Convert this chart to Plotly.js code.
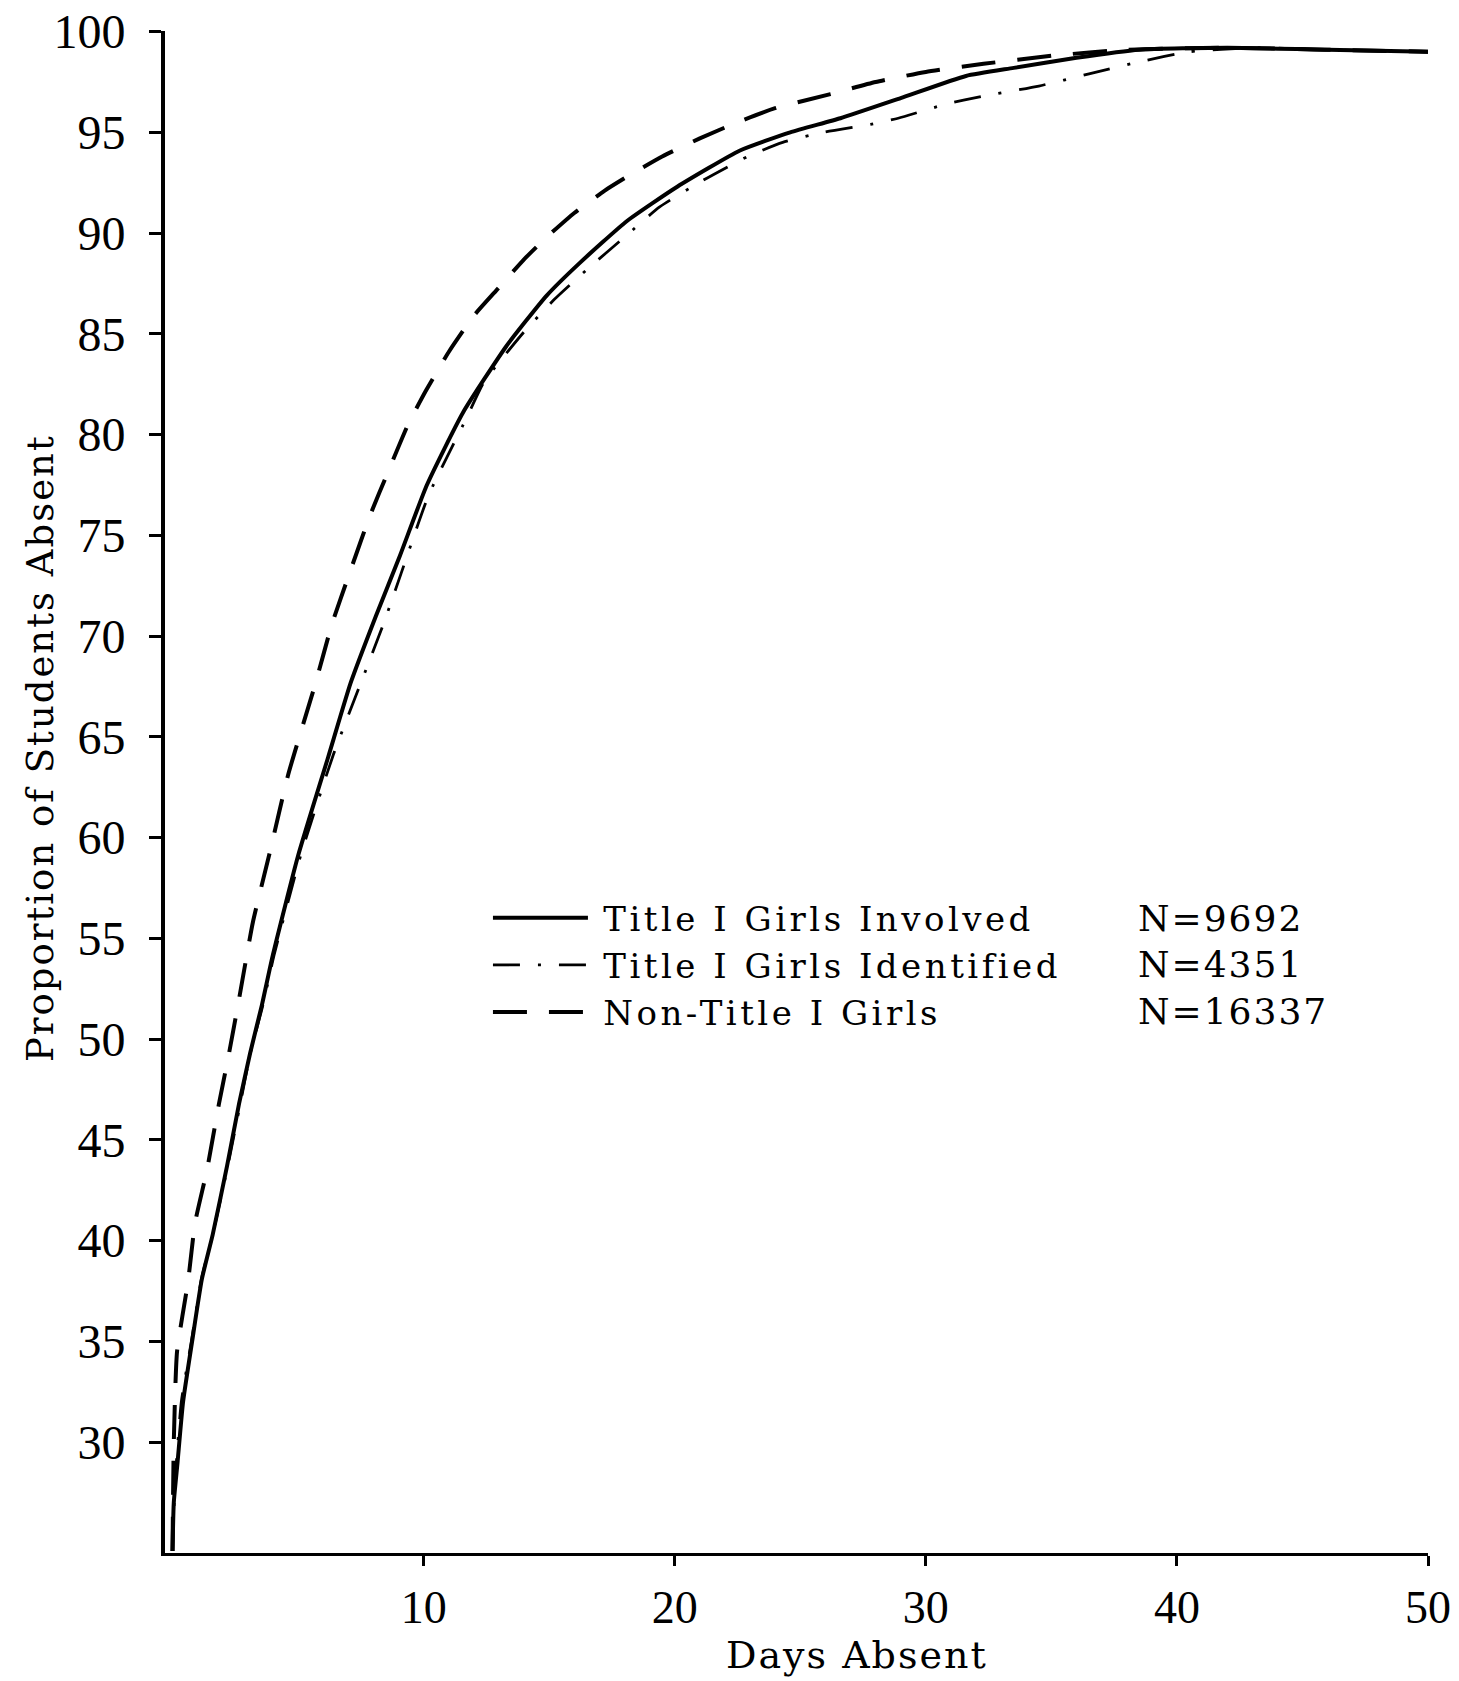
<!DOCTYPE html>
<html>
<head>
<meta charset="utf-8">
<script src="https://cdn.plot.ly/plotly-3.0.1.min.js"></script>
<style>
  html, body { margin: 0; padding: 0; background: #ffffff; }
  #chart { width: 1459px; height: 1681px; }
  .legendtext { letter-spacing: 3.5px; }
  .annotation-text { letter-spacing: 2px; }
</style>
</head>
<body>
<div id="chart"></div>
<script>
// ---- Data ----
const seriesNames = ["Title I Girls Involved", "Title I Girls Identified", "Non-Title I Girls"];
const seriesN = ["N=9692", "N=4351", "N=16337"];

const involvedDays = [0, 0.05, 0.2, 0.42, 0.78, 1.17, 1.6, 2.17, 2.65, 3.09, 3.56, 4.0, 5.0, 6.2, 7.1, 8.1, 9.06, 10.13, 11.57, 13.3, 14.9, 16.2, 18.1, 20.1, 22.6, 24.6, 26.6, 29.0, 31.6, 33.5, 36, 38.5, 42, 46, 50];
const involvedPct  = [24.6, 27.0, 29.0, 32.0, 35.0, 38.1, 40.3, 43.7, 46.8, 49.3, 51.7, 54.2, 59.1, 64.0, 67.7, 71.0, 74.0, 77.5, 81.1, 84.4, 86.9, 88.5, 90.6, 92.3, 94.1, 95.0, 95.7, 96.7, 97.8, 98.2, 98.7, 99.1, 99.2, 99.1, 99.0];

const identifiedDays = [0, 0.1, 0.35, 0.75, 1.15, 1.6, 2.2, 2.7, 3.1, 3.6, 4.05, 5.1, 6.4, 7.6, 8.4, 9.1, 10.2, 11.7, 12.4, 14.0, 15.2, 16.6, 18.0, 19.4, 21.1, 22.9, 24.3, 25.9, 27.8, 28.9, 30.8, 32.3, 34.5, 36.5, 38.5, 40.5, 43, 46, 50];
const identifiedPct  = [24.6, 28.0, 32.0, 35.0, 38.1, 40.3, 43.7, 46.8, 49.3, 51.7, 54.2, 59.1, 64.1, 68.0, 70.6, 73.1, 77.0, 80.8, 82.6, 85.1, 86.7, 88.3, 89.8, 91.3, 92.6, 93.8, 94.5, 95.0, 95.4, 95.7, 96.4, 96.8, 97.3, 97.9, 98.5, 99.0, 99.2, 99.1, 99.0];

const nonTitleDays = [0, 0.05, 0.18, 0.62, 0.9, 1.37, 1.85, 2.25, 2.65, 3.2, 3.88, 4.6, 5.68, 6.35, 7.07, 7.87, 8.6, 9.38, 10.1, 11.0, 12.0, 13.0, 14.0, 14.9, 16.0, 17.2, 18.1, 19.5, 21.0, 22.5, 24.0, 26.2, 28.0, 30.0, 32.3, 35, 38, 42, 46, 50];
const nonTitlePct  = [24.6, 30.0, 34.5, 38.0, 40.9, 43.5, 46.8, 49.3, 52.0, 55.8, 59.3, 63.1, 67.6, 70.6, 73.2, 76.0, 78.2, 80.5, 82.2, 84.1, 85.9, 87.3, 88.7, 89.8, 91.0, 92.1, 92.8, 93.8, 94.7, 95.5, 96.2, 96.9, 97.5, 98.0, 98.4, 98.8, 99.1, 99.2, 99.1, 99.0];

const yTicks = [30, 35, 40, 45, 50, 55, 60, 65, 70, 75, 80, 85, 90, 95, 100];
const xTicks = [10, 20, 30, 40, 50];

// ---- Chart ----
const serif = "Liberation Serif, Times New Roman, serif";
const serif2 = "DejaVu Serif, serif";
const gap = "\u2009";

const traces = [
  { x: involvedDays, y: involvedPct, name: gap + seriesNames[0], mode: "lines",
    line: { color: "#000", width: 4, dash: "solid", shape: "spline", smoothing: 0.5 } },
  { x: identifiedDays, y: identifiedPct, name: gap + seriesNames[1], mode: "lines",
    line: { color: "#000", width: 2.8, dash: "27px,18px,3px,18px", shape: "spline", smoothing: 0.5 } },
  { x: nonTitleDays, y: nonTitlePct, name: gap + seriesNames[2], mode: "lines",
    line: { color: "#000", width: 4, dash: "34px,22px", shape: "spline", smoothing: 0.5 } }
];

const rowY0 = 0.4170, rowStep = 0.0305;
const annotations = seriesN.map((t, i) => ({
  text: t, xref: "paper", yref: "paper", x: 0.769, y: rowY0 - i * rowStep,
  xanchor: "left", yanchor: "middle", showarrow: false,
  font: { family: serif2, size: 36, color: "#000" }
}));
annotations.push({
  text: "Proportion of Students Absent", xref: "paper", yref: "paper",
  x: -0.098, y: 0.529, xanchor: "center", yanchor: "middle", textangle: -90,
  showarrow: false, font: { family: serif2, size: 37, color: "#000" }
});
annotations.push({
  text: "Days Absent", xref: "paper", yref: "paper",
  x: 0.548, y: -0.0672, xanchor: "center", yanchor: "middle",
  showarrow: false, font: { family: serif2, size: 38, color: "#000" }
});

const layout = {
  width: 1459, height: 1681,
  margin: { l: 165, r: 31, t: 31, b: 128 },
  paper_bgcolor: "#fff", plot_bgcolor: "#fff",
  font: { family: serif, color: "#000" },
  showlegend: true,
  legend: {
    x: 0.2557, y: 0.4362, xanchor: "left", yanchor: "top",
    bgcolor: "rgba(0,0,0,0)", borderwidth: 0,
    font: { family: serif2, size: 34, color: "#000" },
    itemwidth: 95, tracegroupgap: 0
  },
  xaxis: {
    range: [-0.3, 50], tickmode: "array", tickvals: xTicks, ticktext: xTicks.map(String),
    showline: true, linecolor: "#000", linewidth: 3, showgrid: false, zeroline: false,
    ticks: "outside", ticklen: 10, tickwidth: 3, tickcolor: "#000",
    tickfont: { family: serif, size: 46, color: "#000" }, ticklabelstandoff: 2
  },
  yaxis: {
    range: [24.5, 100.03], tickmode: "array", tickvals: yTicks, ticktext: yTicks.map(String),
    showline: true, linecolor: "#000", linewidth: 4, showgrid: false, zeroline: false,
    ticks: "outside", ticklen: 12, tickwidth: 3, tickcolor: "#000",
    tickfont: { family: serif, size: 48, color: "#000" }, ticklabelstandoff: 14,
    ticklabeloverflow: "allow"
  },
  annotations: annotations
};

Plotly.newPlot("chart", traces, layout, { displayModeBar: false, staticPlot: true });
</script>
</body>
</html>
